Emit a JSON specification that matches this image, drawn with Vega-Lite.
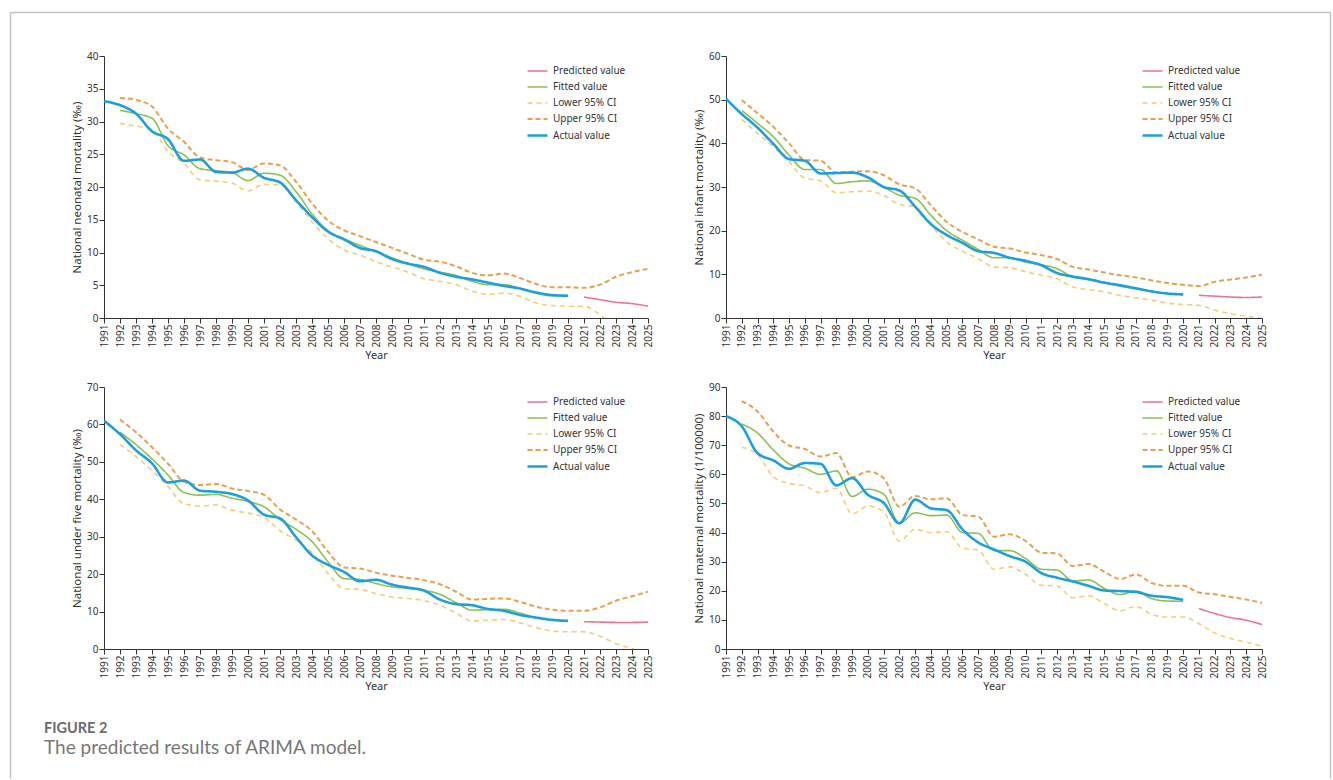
{
"$schema": "https://vega.github.io/schema/vega-lite/v6.json",
"background": "white",
"padding": {"left": 10, "top": 12, "right": 0, "bottom": 0},
"config": {
 "font": "Noto Sans",
 "view": {"stroke": null},
 "axis": {"labelFontSize": 10, "labelColor": "#333", "titleFontSize": 11.5, "titleFontWeight": "normal", "titleColor": "#333", "domainColor": "#333", "tickColor": "#333", "grid": false, "tickSize": 5, "labelFont": "Noto Sans", "titleFont": "Noto Sans", "labelPadding": 1},
 "axisX": {"labelAngle": 270, "titlePadding": 3, "labelAlign": "right", "labelBaseline": "middle", "titleFontSize": 11},
 "axisY": {"titlePadding": 4},
 "legend": {"symbolType": "stroke", "symbolSize": 400, "labelFontSize": 10, "labelColor": "#333", "labelFont": "Noto Sans", "rowPadding": -1, "labelOffset": 4, "symbolStrokeWidth": 2}
},
"title": {"text": "FIGURE 2", "subtitle": "The predicted results of ARIMA model.", "orient": "top", "frame": "group", "anchor": "start", "offset": 0, "dx": -60, "dy": 747, "font": "Lato", "fontSize": 14.5, "fontWeight": "bold", "color": "#6b6b6b", "subtitleFont": "Lato", "subtitleFontSize": 19, "subtitleFontWeight": "normal", "subtitleColor": "#777777", "subtitlePadding": 3},
"datasets": {
"nn": [
{"year":2021,"series":"Predicted value","value":3.2},{"year":2022,"series":"Predicted value","value":2.8},{"year":2023,"series":"Predicted value","value":2.4},{"year":2024,"series":"Predicted value","value":2.2},{"year":2025,"series":"Predicted value","value":1.8},
{"year":1992,"series":"Fitted value","value":31.7},{"year":1993,"series":"Fitted value","value":31.2},{"year":1994,"series":"Fitted value","value":30.5},{"year":1995,"series":"Fitted value","value":26.3},{"year":1996,"series":"Fitted value","value":24.9},{"year":1997,"series":"Fitted value","value":22.8},{"year":1998,"series":"Fitted value","value":22.5},{"year":1999,"series":"Fitted value","value":22.2},{"year":2000,"series":"Fitted value","value":21.0},{"year":2001,"series":"Fitted value","value":22.1},{"year":2002,"series":"Fitted value","value":21.8},{"year":2003,"series":"Fitted value","value":19.3},{"year":2004,"series":"Fitted value","value":15.9},{"year":2005,"series":"Fitted value","value":13.3},{"year":2006,"series":"Fitted value","value":12.1},{"year":2007,"series":"Fitted value","value":11.1},{"year":2008,"series":"Fitted value","value":10.1},{"year":2009,"series":"Fitted value","value":9.2},{"year":2010,"series":"Fitted value","value":8.3},{"year":2011,"series":"Fitted value","value":7.5},{"year":2012,"series":"Fitted value","value":7.0},{"year":2013,"series":"Fitted value","value":6.5},{"year":2014,"series":"Fitted value","value":5.6},{"year":2015,"series":"Fitted value","value":5.1},{"year":2016,"series":"Fitted value","value":5.1},{"year":2017,"series":"Fitted value","value":4.5},{"year":2018,"series":"Fitted value","value":3.8},{"year":2019,"series":"Fitted value","value":3.4},{"year":2020,"series":"Fitted value","value":3.4},
{"year":1992,"series":"Lower 95% CI","value":29.7},{"year":1993,"series":"Lower 95% CI","value":29.3},{"year":1994,"series":"Lower 95% CI","value":28.8},{"year":1995,"series":"Lower 95% CI","value":25.4},{"year":1996,"series":"Lower 95% CI","value":23.6},{"year":1997,"series":"Lower 95% CI","value":21.1},{"year":1998,"series":"Lower 95% CI","value":20.9},{"year":1999,"series":"Lower 95% CI","value":20.6},{"year":2000,"series":"Lower 95% CI","value":19.4},{"year":2001,"series":"Lower 95% CI","value":20.4},{"year":2002,"series":"Lower 95% CI","value":20.3},{"year":2003,"series":"Lower 95% CI","value":17.7},{"year":2004,"series":"Lower 95% CI","value":14.7},{"year":2005,"series":"Lower 95% CI","value":12.1},{"year":2006,"series":"Lower 95% CI","value":10.4},{"year":2007,"series":"Lower 95% CI","value":9.6},{"year":2008,"series":"Lower 95% CI","value":8.6},{"year":2009,"series":"Lower 95% CI","value":7.8},{"year":2010,"series":"Lower 95% CI","value":7.0},{"year":2011,"series":"Lower 95% CI","value":6.0},{"year":2012,"series":"Lower 95% CI","value":5.6},{"year":2013,"series":"Lower 95% CI","value":5.1},{"year":2014,"series":"Lower 95% CI","value":4.1},{"year":2015,"series":"Lower 95% CI","value":3.6},{"year":2016,"series":"Lower 95% CI","value":3.8},{"year":2017,"series":"Lower 95% CI","value":3.3},{"year":2018,"series":"Lower 95% CI","value":2.3},{"year":2019,"series":"Lower 95% CI","value":1.9},{"year":2020,"series":"Lower 95% CI","value":1.8},{"year":2021,"series":"Lower 95% CI","value":1.8},{"year":2022,"series":"Lower 95% CI","value":0.5},{"year":2023,"series":"Lower 95% CI","value":-1.3},{"year":2024,"series":"Lower 95% CI","value":-2.2},{"year":2025,"series":"Lower 95% CI","value":-3.0},
{"year":1992,"series":"Upper 95% CI","value":33.6},{"year":1993,"series":"Upper 95% CI","value":33.3},{"year":1994,"series":"Upper 95% CI","value":32.3},{"year":1995,"series":"Upper 95% CI","value":28.9},{"year":1996,"series":"Upper 95% CI","value":26.9},{"year":1997,"series":"Upper 95% CI","value":24.5},{"year":1998,"series":"Upper 95% CI","value":24.1},{"year":1999,"series":"Upper 95% CI","value":23.8},{"year":2000,"series":"Upper 95% CI","value":22.6},{"year":2001,"series":"Upper 95% CI","value":23.6},{"year":2002,"series":"Upper 95% CI","value":23.3},{"year":2003,"series":"Upper 95% CI","value":20.8},{"year":2004,"series":"Upper 95% CI","value":17.5},{"year":2005,"series":"Upper 95% CI","value":14.9},{"year":2006,"series":"Upper 95% CI","value":13.4},{"year":2007,"series":"Upper 95% CI","value":12.5},{"year":2008,"series":"Upper 95% CI","value":11.6},{"year":2009,"series":"Upper 95% CI","value":10.7},{"year":2010,"series":"Upper 95% CI","value":9.8},{"year":2011,"series":"Upper 95% CI","value":8.9},{"year":2012,"series":"Upper 95% CI","value":8.6},{"year":2013,"series":"Upper 95% CI","value":7.9},{"year":2014,"series":"Upper 95% CI","value":6.9},{"year":2015,"series":"Upper 95% CI","value":6.5},{"year":2016,"series":"Upper 95% CI","value":6.8},{"year":2017,"series":"Upper 95% CI","value":6.1},{"year":2018,"series":"Upper 95% CI","value":5.2},{"year":2019,"series":"Upper 95% CI","value":4.7},{"year":2020,"series":"Upper 95% CI","value":4.7},{"year":2021,"series":"Upper 95% CI","value":4.6},{"year":2022,"series":"Upper 95% CI","value":5.1},{"year":2023,"series":"Upper 95% CI","value":6.3},{"year":2024,"series":"Upper 95% CI","value":7.0},{"year":2025,"series":"Upper 95% CI","value":7.5},
{"year":1991,"series":"Actual value","value":33.1},{"year":1992,"series":"Actual value","value":32.5},{"year":1993,"series":"Actual value","value":31.2},{"year":1994,"series":"Actual value","value":28.5},{"year":1995,"series":"Actual value","value":27.3},{"year":1996,"series":"Actual value","value":24.0},{"year":1997,"series":"Actual value","value":24.2},{"year":1998,"series":"Actual value","value":22.3},{"year":1999,"series":"Actual value","value":22.2},{"year":2000,"series":"Actual value","value":22.8},{"year":2001,"series":"Actual value","value":21.4},{"year":2002,"series":"Actual value","value":20.7},{"year":2003,"series":"Actual value","value":18.0},{"year":2004,"series":"Actual value","value":15.4},{"year":2005,"series":"Actual value","value":13.2},{"year":2006,"series":"Actual value","value":12.0},{"year":2007,"series":"Actual value","value":10.7},{"year":2008,"series":"Actual value","value":10.2},{"year":2009,"series":"Actual value","value":9.0},{"year":2010,"series":"Actual value","value":8.3},{"year":2011,"series":"Actual value","value":7.8},{"year":2012,"series":"Actual value","value":6.9},{"year":2013,"series":"Actual value","value":6.3},{"year":2014,"series":"Actual value","value":5.9},{"year":2015,"series":"Actual value","value":5.4},{"year":2016,"series":"Actual value","value":4.9},{"year":2017,"series":"Actual value","value":4.5},{"year":2018,"series":"Actual value","value":3.9},{"year":2019,"series":"Actual value","value":3.5},{"year":2020,"series":"Actual value","value":3.4}
],
"inf": [
{"year":2021,"series":"Predicted value","value":5.2},{"year":2022,"series":"Predicted value","value":5.0},{"year":2023,"series":"Predicted value","value":4.8},{"year":2024,"series":"Predicted value","value":4.7},{"year":2025,"series":"Predicted value","value":4.8},
{"year":1992,"series":"Fitted value","value":47.5},{"year":1993,"series":"Fitted value","value":44.6},{"year":1994,"series":"Fitted value","value":41.5},{"year":1995,"series":"Fitted value","value":37.3},{"year":1996,"series":"Fitted value","value":34.0},{"year":1997,"series":"Fitted value","value":34.0},{"year":1998,"series":"Fitted value","value":30.8},{"year":1999,"series":"Fitted value","value":31.2},{"year":2000,"series":"Fitted value","value":31.4},{"year":2001,"series":"Fitted value","value":30.0},{"year":2002,"series":"Fitted value","value":28.1},{"year":2003,"series":"Fitted value","value":27.4},{"year":2004,"series":"Fitted value","value":23.5},{"year":2005,"series":"Fitted value","value":20.0},{"year":2006,"series":"Fitted value","value":17.8},{"year":2007,"series":"Fitted value","value":15.7},{"year":2008,"series":"Fitted value","value":13.8},{"year":2009,"series":"Fitted value","value":13.8},{"year":2010,"series":"Fitted value","value":12.8},{"year":2011,"series":"Fitted value","value":12.2},{"year":2012,"series":"Fitted value","value":11.3},{"year":2013,"series":"Fitted value","value":9.4},{"year":2014,"series":"Fitted value","value":8.8},{"year":2015,"series":"Fitted value","value":8.1},{"year":2016,"series":"Fitted value","value":7.3},{"year":2017,"series":"Fitted value","value":6.7},{"year":2018,"series":"Fitted value","value":6.1},{"year":2019,"series":"Fitted value","value":5.6},{"year":2020,"series":"Fitted value","value":5.4},
{"year":1992,"series":"Lower 95% CI","value":45.5},{"year":1993,"series":"Lower 95% CI","value":42.3},{"year":1994,"series":"Lower 95% CI","value":39.2},{"year":1995,"series":"Lower 95% CI","value":35.8},{"year":1996,"series":"Lower 95% CI","value":32.0},{"year":1997,"series":"Lower 95% CI","value":31.4},{"year":1998,"series":"Lower 95% CI","value":28.7},{"year":1999,"series":"Lower 95% CI","value":28.9},{"year":2000,"series":"Lower 95% CI","value":29.1},{"year":2001,"series":"Lower 95% CI","value":28.1},{"year":2002,"series":"Lower 95% CI","value":26.0},{"year":2003,"series":"Lower 95% CI","value":25.5},{"year":2004,"series":"Lower 95% CI","value":21.3},{"year":2005,"series":"Lower 95% CI","value":17.4},{"year":2006,"series":"Lower 95% CI","value":15.3},{"year":2007,"series":"Lower 95% CI","value":13.6},{"year":2008,"series":"Lower 95% CI","value":11.7},{"year":2009,"series":"Lower 95% CI","value":11.5},{"year":2010,"series":"Lower 95% CI","value":10.6},{"year":2011,"series":"Lower 95% CI","value":9.8},{"year":2012,"series":"Lower 95% CI","value":9.0},{"year":2013,"series":"Lower 95% CI","value":7.1},{"year":2014,"series":"Lower 95% CI","value":6.5},{"year":2015,"series":"Lower 95% CI","value":6.0},{"year":2016,"series":"Lower 95% CI","value":5.2},{"year":2017,"series":"Lower 95% CI","value":4.6},{"year":2018,"series":"Lower 95% CI","value":4.1},{"year":2019,"series":"Lower 95% CI","value":3.4},{"year":2020,"series":"Lower 95% CI","value":3.1},{"year":2021,"series":"Lower 95% CI","value":2.9},{"year":2022,"series":"Lower 95% CI","value":1.8},{"year":2023,"series":"Lower 95% CI","value":1.0},{"year":2024,"series":"Lower 95% CI","value":0.4},{"year":2025,"series":"Lower 95% CI","value":-0.1},
{"year":1992,"series":"Upper 95% CI","value":49.9},{"year":1993,"series":"Upper 95% CI","value":46.9},{"year":1994,"series":"Upper 95% CI","value":43.8},{"year":1995,"series":"Upper 95% CI","value":40.0},{"year":1996,"series":"Upper 95% CI","value":36.2},{"year":1997,"series":"Upper 95% CI","value":36.0},{"year":1998,"series":"Upper 95% CI","value":33.3},{"year":1999,"series":"Upper 95% CI","value":33.5},{"year":2000,"series":"Upper 95% CI","value":33.6},{"year":2001,"series":"Upper 95% CI","value":32.7},{"year":2002,"series":"Upper 95% CI","value":30.6},{"year":2003,"series":"Upper 95% CI","value":29.7},{"year":2004,"series":"Upper 95% CI","value":25.8},{"year":2005,"series":"Upper 95% CI","value":22.0},{"year":2006,"series":"Upper 95% CI","value":19.7},{"year":2007,"series":"Upper 95% CI","value":18.0},{"year":2008,"series":"Upper 95% CI","value":16.3},{"year":2009,"series":"Upper 95% CI","value":15.9},{"year":2010,"series":"Upper 95% CI","value":15.0},{"year":2011,"series":"Upper 95% CI","value":14.4},{"year":2012,"series":"Upper 95% CI","value":13.5},{"year":2013,"series":"Upper 95% CI","value":11.7},{"year":2014,"series":"Upper 95% CI","value":11.1},{"year":2015,"series":"Upper 95% CI","value":10.4},{"year":2016,"series":"Upper 95% CI","value":9.8},{"year":2017,"series":"Upper 95% CI","value":9.3},{"year":2018,"series":"Upper 95% CI","value":8.6},{"year":2019,"series":"Upper 95% CI","value":8.0},{"year":2020,"series":"Upper 95% CI","value":7.6},{"year":2021,"series":"Upper 95% CI","value":7.3},{"year":2022,"series":"Upper 95% CI","value":8.3},{"year":2023,"series":"Upper 95% CI","value":8.8},{"year":2024,"series":"Upper 95% CI","value":9.3},{"year":2025,"series":"Upper 95% CI","value":9.9},
{"year":1991,"series":"Actual value","value":50.2},{"year":1992,"series":"Actual value","value":46.7},{"year":1993,"series":"Actual value","value":43.6},{"year":1994,"series":"Actual value","value":39.9},{"year":1995,"series":"Actual value","value":36.4},{"year":1996,"series":"Actual value","value":36.0},{"year":1997,"series":"Actual value","value":33.1},{"year":1998,"series":"Actual value","value":33.2},{"year":1999,"series":"Actual value","value":33.3},{"year":2000,"series":"Actual value","value":32.2},{"year":2001,"series":"Actual value","value":30.0},{"year":2002,"series":"Actual value","value":29.2},{"year":2003,"series":"Actual value","value":25.5},{"year":2004,"series":"Actual value","value":21.5},{"year":2005,"series":"Actual value","value":19.0},{"year":2006,"series":"Actual value","value":17.2},{"year":2007,"series":"Actual value","value":15.3},{"year":2008,"series":"Actual value","value":14.9},{"year":2009,"series":"Actual value","value":13.8},{"year":2010,"series":"Actual value","value":13.1},{"year":2011,"series":"Actual value","value":12.1},{"year":2012,"series":"Actual value","value":10.3},{"year":2013,"series":"Actual value","value":9.5},{"year":2014,"series":"Actual value","value":8.9},{"year":2015,"series":"Actual value","value":8.1},{"year":2016,"series":"Actual value","value":7.5},{"year":2017,"series":"Actual value","value":6.8},{"year":2018,"series":"Actual value","value":6.1},{"year":2019,"series":"Actual value","value":5.6},{"year":2020,"series":"Actual value","value":5.4}
],
"u5": [
{"year":2021,"series":"Predicted value","value":7.3},{"year":2022,"series":"Predicted value","value":7.2},{"year":2023,"series":"Predicted value","value":7.1},{"year":2024,"series":"Predicted value","value":7.1},{"year":2025,"series":"Predicted value","value":7.2},
{"year":1992,"series":"Fitted value","value":57.9},{"year":1993,"series":"Fitted value","value":54.6},{"year":1994,"series":"Fitted value","value":50.8},{"year":1995,"series":"Fitted value","value":46.5},{"year":1996,"series":"Fitted value","value":41.8},{"year":1997,"series":"Fitted value","value":41.1},{"year":1998,"series":"Fitted value","value":41.3},{"year":1999,"series":"Fitted value","value":40.3},{"year":2000,"series":"Fitted value","value":39.4},{"year":2001,"series":"Fitted value","value":38.0},{"year":2002,"series":"Fitted value","value":34.6},{"year":2003,"series":"Fitted value","value":32.0},{"year":2004,"series":"Fitted value","value":28.7},{"year":2005,"series":"Fitted value","value":23.3},{"year":2006,"series":"Fitted value","value":18.8},{"year":2007,"series":"Fitted value","value":18.6},{"year":2008,"series":"Fitted value","value":17.5},{"year":2009,"series":"Fitted value","value":16.6},{"year":2010,"series":"Fitted value","value":16.2},{"year":2011,"series":"Fitted value","value":15.7},{"year":2012,"series":"Fitted value","value":14.6},{"year":2013,"series":"Fitted value","value":12.4},{"year":2014,"series":"Fitted value","value":10.4},{"year":2015,"series":"Fitted value","value":10.5},{"year":2016,"series":"Fitted value","value":10.6},{"year":2017,"series":"Fitted value","value":9.6},{"year":2018,"series":"Fitted value","value":8.4},{"year":2019,"series":"Fitted value","value":7.7},{"year":2020,"series":"Fitted value","value":7.5},
{"year":1992,"series":"Lower 95% CI","value":54.7},{"year":1993,"series":"Lower 95% CI","value":51.4},{"year":1994,"series":"Lower 95% CI","value":47.7},{"year":1995,"series":"Lower 95% CI","value":43.4},{"year":1996,"series":"Lower 95% CI","value":38.8},{"year":1997,"series":"Lower 95% CI","value":38.2},{"year":1998,"series":"Lower 95% CI","value":38.5},{"year":1999,"series":"Lower 95% CI","value":37.1},{"year":2000,"series":"Lower 95% CI","value":36.3},{"year":2001,"series":"Lower 95% CI","value":35.2},{"year":2002,"series":"Lower 95% CI","value":31.6},{"year":2003,"series":"Lower 95% CI","value":29.1},{"year":2004,"series":"Lower 95% CI","value":25.7},{"year":2005,"series":"Lower 95% CI","value":20.2},{"year":2006,"series":"Lower 95% CI","value":16.1},{"year":2007,"series":"Lower 95% CI","value":15.9},{"year":2008,"series":"Lower 95% CI","value":14.8},{"year":2009,"series":"Lower 95% CI","value":13.9},{"year":2010,"series":"Lower 95% CI","value":13.5},{"year":2011,"series":"Lower 95% CI","value":12.9},{"year":2012,"series":"Lower 95% CI","value":11.7},{"year":2013,"series":"Lower 95% CI","value":9.6},{"year":2014,"series":"Lower 95% CI","value":7.5},{"year":2015,"series":"Lower 95% CI","value":7.7},{"year":2016,"series":"Lower 95% CI","value":7.9},{"year":2017,"series":"Lower 95% CI","value":7.0},{"year":2018,"series":"Lower 95% CI","value":5.7},{"year":2019,"series":"Lower 95% CI","value":4.8},{"year":2020,"series":"Lower 95% CI","value":4.6},{"year":2021,"series":"Lower 95% CI","value":4.6},{"year":2022,"series":"Lower 95% CI","value":3.4},{"year":2023,"series":"Lower 95% CI","value":1.4},{"year":2024,"series":"Lower 95% CI","value":0.1},{"year":2025,"series":"Lower 95% CI","value":-1.6},
{"year":1992,"series":"Upper 95% CI","value":61.3},{"year":1993,"series":"Upper 95% CI","value":57.9},{"year":1994,"series":"Upper 95% CI","value":53.9},{"year":1995,"series":"Upper 95% CI","value":49.5},{"year":1996,"series":"Upper 95% CI","value":44.7},{"year":1997,"series":"Upper 95% CI","value":43.8},{"year":1998,"series":"Upper 95% CI","value":44.1},{"year":1999,"series":"Upper 95% CI","value":42.9},{"year":2000,"series":"Upper 95% CI","value":42.2},{"year":2001,"series":"Upper 95% CI","value":41.2},{"year":2002,"series":"Upper 95% CI","value":37.3},{"year":2003,"series":"Upper 95% CI","value":34.6},{"year":2004,"series":"Upper 95% CI","value":31.5},{"year":2005,"series":"Upper 95% CI","value":26.0},{"year":2006,"series":"Upper 95% CI","value":21.8},{"year":2007,"series":"Upper 95% CI","value":21.5},{"year":2008,"series":"Upper 95% CI","value":20.4},{"year":2009,"series":"Upper 95% CI","value":19.6},{"year":2010,"series":"Upper 95% CI","value":19.0},{"year":2011,"series":"Upper 95% CI","value":18.4},{"year":2012,"series":"Upper 95% CI","value":17.3},{"year":2013,"series":"Upper 95% CI","value":15.3},{"year":2014,"series":"Upper 95% CI","value":13.2},{"year":2015,"series":"Upper 95% CI","value":13.4},{"year":2016,"series":"Upper 95% CI","value":13.5},{"year":2017,"series":"Upper 95% CI","value":12.6},{"year":2018,"series":"Upper 95% CI","value":11.3},{"year":2019,"series":"Upper 95% CI","value":10.5},{"year":2020,"series":"Upper 95% CI","value":10.2},{"year":2021,"series":"Upper 95% CI","value":10.2},{"year":2022,"series":"Upper 95% CI","value":11.1},{"year":2023,"series":"Upper 95% CI","value":12.9},{"year":2024,"series":"Upper 95% CI","value":14.1},{"year":2025,"series":"Upper 95% CI","value":15.3},
{"year":1991,"series":"Actual value","value":61.0},{"year":1992,"series":"Actual value","value":57.4},{"year":1993,"series":"Actual value","value":53.1},{"year":1994,"series":"Actual value","value":49.6},{"year":1995,"series":"Actual value","value":44.5},{"year":1996,"series":"Actual value","value":45.0},{"year":1997,"series":"Actual value","value":42.3},{"year":1998,"series":"Actual value","value":42.0},{"year":1999,"series":"Actual value","value":41.4},{"year":2000,"series":"Actual value","value":39.7},{"year":2001,"series":"Actual value","value":35.9},{"year":2002,"series":"Actual value","value":34.9},{"year":2003,"series":"Actual value","value":29.9},{"year":2004,"series":"Actual value","value":25.0},{"year":2005,"series":"Actual value","value":22.5},{"year":2006,"series":"Actual value","value":20.6},{"year":2007,"series":"Actual value","value":18.1},{"year":2008,"series":"Actual value","value":18.5},{"year":2009,"series":"Actual value","value":17.2},{"year":2010,"series":"Actual value","value":16.4},{"year":2011,"series":"Actual value","value":15.6},{"year":2012,"series":"Actual value","value":13.2},{"year":2013,"series":"Actual value","value":12.0},{"year":2014,"series":"Actual value","value":11.7},{"year":2015,"series":"Actual value","value":10.7},{"year":2016,"series":"Actual value","value":10.2},{"year":2017,"series":"Actual value","value":9.1},{"year":2018,"series":"Actual value","value":8.4},{"year":2019,"series":"Actual value","value":7.8},{"year":2020,"series":"Actual value","value":7.5}
],
"mm": [
{"year":2021,"series":"Predicted value","value":13.9},{"year":2022,"series":"Predicted value","value":12.2},{"year":2023,"series":"Predicted value","value":10.8},{"year":2024,"series":"Predicted value","value":9.9},{"year":2025,"series":"Predicted value","value":8.4},
{"year":1992,"series":"Fitted value","value":77.3},{"year":1993,"series":"Fitted value","value":74.2},{"year":1994,"series":"Fitted value","value":68.4},{"year":1995,"series":"Fitted value","value":63.6},{"year":1996,"series":"Fitted value","value":62.1},{"year":1997,"series":"Fitted value","value":60.0},{"year":1998,"series":"Fitted value","value":61.2},{"year":1999,"series":"Fitted value","value":52.4},{"year":2000,"series":"Fitted value","value":54.9},{"year":2001,"series":"Fitted value","value":53.2},{"year":2002,"series":"Fitted value","value":43.2},{"year":2003,"series":"Fitted value","value":46.8},{"year":2004,"series":"Fitted value","value":45.8},{"year":2005,"series":"Fitted value","value":46.0},{"year":2006,"series":"Fitted value","value":40.0},{"year":2007,"series":"Fitted value","value":39.7},{"year":2008,"series":"Fitted value","value":33.8},{"year":2009,"series":"Fitted value","value":33.8},{"year":2010,"series":"Fitted value","value":31.1},{"year":2011,"series":"Fitted value","value":27.4},{"year":2012,"series":"Fitted value","value":27.1},{"year":2013,"series":"Fitted value","value":23.4},{"year":2014,"series":"Fitted value","value":23.7},{"year":2015,"series":"Fitted value","value":20.8},{"year":2016,"series":"Fitted value","value":18.7},{"year":2017,"series":"Fitted value","value":19.9},{"year":2018,"series":"Fitted value","value":17.3},{"year":2019,"series":"Fitted value","value":16.5},{"year":2020,"series":"Fitted value","value":16.4},
{"year":1992,"series":"Lower 95% CI","value":69.3},{"year":1993,"series":"Lower 95% CI","value":66.7},{"year":1994,"series":"Lower 95% CI","value":59.2},{"year":1995,"series":"Lower 95% CI","value":56.9},{"year":1996,"series":"Lower 95% CI","value":56.0},{"year":1997,"series":"Lower 95% CI","value":53.7},{"year":1998,"series":"Lower 95% CI","value":55.2},{"year":1999,"series":"Lower 95% CI","value":46.4},{"year":2000,"series":"Lower 95% CI","value":49.1},{"year":2001,"series":"Lower 95% CI","value":47.2},{"year":2002,"series":"Lower 95% CI","value":37.1},{"year":2003,"series":"Lower 95% CI","value":41.1},{"year":2004,"series":"Lower 95% CI","value":40.0},{"year":2005,"series":"Lower 95% CI","value":40.3},{"year":2006,"series":"Lower 95% CI","value":34.6},{"year":2007,"series":"Lower 95% CI","value":34.0},{"year":2008,"series":"Lower 95% CI","value":27.4},{"year":2009,"series":"Lower 95% CI","value":28.2},{"year":2010,"series":"Lower 95% CI","value":25.6},{"year":2011,"series":"Lower 95% CI","value":21.9},{"year":2012,"series":"Lower 95% CI","value":21.7},{"year":2013,"series":"Lower 95% CI","value":17.6},{"year":2014,"series":"Lower 95% CI","value":18.3},{"year":2015,"series":"Lower 95% CI","value":15.6},{"year":2016,"series":"Lower 95% CI","value":13.1},{"year":2017,"series":"Lower 95% CI","value":14.7},{"year":2018,"series":"Lower 95% CI","value":11.9},{"year":2019,"series":"Lower 95% CI","value":11.0},{"year":2020,"series":"Lower 95% CI","value":11.0},{"year":2021,"series":"Lower 95% CI","value":8.7},{"year":2022,"series":"Lower 95% CI","value":5.5},{"year":2023,"series":"Lower 95% CI","value":3.6},{"year":2024,"series":"Lower 95% CI","value":2.4},{"year":2025,"series":"Lower 95% CI","value":0.9},
{"year":1992,"series":"Upper 95% CI","value":85.1},{"year":1993,"series":"Upper 95% CI","value":81.6},{"year":1994,"series":"Upper 95% CI","value":74.7},{"year":1995,"series":"Upper 95% CI","value":69.9},{"year":1996,"series":"Upper 95% CI","value":68.7},{"year":1997,"series":"Upper 95% CI","value":66.1},{"year":1998,"series":"Upper 95% CI","value":67.3},{"year":1999,"series":"Upper 95% CI","value":59.0},{"year":2000,"series":"Upper 95% CI","value":61.0},{"year":2001,"series":"Upper 95% CI","value":58.7},{"year":2002,"series":"Upper 95% CI","value":48.9},{"year":2003,"series":"Upper 95% CI","value":52.6},{"year":2004,"series":"Upper 95% CI","value":51.4},{"year":2005,"series":"Upper 95% CI","value":51.8},{"year":2006,"series":"Upper 95% CI","value":46.0},{"year":2007,"series":"Upper 95% CI","value":45.5},{"year":2008,"series":"Upper 95% CI","value":38.6},{"year":2009,"series":"Upper 95% CI","value":39.4},{"year":2010,"series":"Upper 95% CI","value":37.1},{"year":2011,"series":"Upper 95% CI","value":33.1},{"year":2012,"series":"Upper 95% CI","value":32.8},{"year":2013,"series":"Upper 95% CI","value":28.5},{"year":2014,"series":"Upper 95% CI","value":29.2},{"year":2015,"series":"Upper 95% CI","value":26.5},{"year":2016,"series":"Upper 95% CI","value":24.0},{"year":2017,"series":"Upper 95% CI","value":25.6},{"year":2018,"series":"Upper 95% CI","value":22.7},{"year":2019,"series":"Upper 95% CI","value":21.7},{"year":2020,"series":"Upper 95% CI","value":21.7},{"year":2021,"series":"Upper 95% CI","value":19.4},{"year":2022,"series":"Upper 95% CI","value":18.8},{"year":2023,"series":"Upper 95% CI","value":17.9},{"year":2024,"series":"Upper 95% CI","value":17.0},{"year":2025,"series":"Upper 95% CI","value":15.8},
{"year":1991,"series":"Actual value","value":80.0},{"year":1992,"series":"Actual value","value":76.5},{"year":1993,"series":"Actual value","value":67.3},{"year":1994,"series":"Actual value","value":64.8},{"year":1995,"series":"Actual value","value":61.9},{"year":1996,"series":"Actual value","value":63.9},{"year":1997,"series":"Actual value","value":63.6},{"year":1998,"series":"Actual value","value":56.2},{"year":1999,"series":"Actual value","value":58.7},{"year":2000,"series":"Actual value","value":53.0},{"year":2001,"series":"Actual value","value":50.2},{"year":2002,"series":"Actual value","value":43.2},{"year":2003,"series":"Actual value","value":51.3},{"year":2004,"series":"Actual value","value":48.3},{"year":2005,"series":"Actual value","value":47.7},{"year":2006,"series":"Actual value","value":41.1},{"year":2007,"series":"Actual value","value":36.6},{"year":2008,"series":"Actual value","value":34.2},{"year":2009,"series":"Actual value","value":31.9},{"year":2010,"series":"Actual value","value":30.0},{"year":2011,"series":"Actual value","value":26.1},{"year":2012,"series":"Actual value","value":24.5},{"year":2013,"series":"Actual value","value":23.2},{"year":2014,"series":"Actual value","value":21.7},{"year":2015,"series":"Actual value","value":20.1},{"year":2016,"series":"Actual value","value":19.9},{"year":2017,"series":"Actual value","value":19.6},{"year":2018,"series":"Actual value","value":18.3},{"year":2019,"series":"Actual value","value":17.8},{"year":2020,"series":"Actual value","value":16.9}
]
},
"columns": 2,
"spacing": {"row": 69, "column": 78},
"bounds": "flush",
"resolve": {"scale": {"color": "independent", "strokeDash": "independent", "strokeWidth": "independent"}},
"concat": [
 {"width": 544, "height": 262,
  "resolve": {"scale": {"x": "independent", "y": "independent"}, "axis": {"x": "independent", "y": "independent"}},
  "layer": [
  {"data": {"name": "nn"},
   "mark": {"type": "line", "interpolate": "monotone", "clip": true},
   "encoding": {
    "x": {"field": "year", "type": "ordinal", "scale": {"type": "point", "padding": 0}, "axis": {"title": "Year"}},
    "y": {"field": "value", "type": "quantitative", "scale": {"domain": [0, 40]}, "axis": {"title": "National neonatal mortality (‰)", "values": [0,5,10,15,20,25,30,35,40]}},
    "color": {"field": "series", "type": "nominal", "scale": {"domain": ["Predicted value","Fitted value","Lower 95% CI","Upper 95% CI","Actual value"], "range": ["#ea7494","#8cc152","#f7cc74","#e9a04e","#1b9fdd"]}, "legend": {"title": null, "orient": "none", "legendX": 422, "legendY": 4}},
    "strokeDash": {"field": "series", "type": "nominal", "scale": {"domain": ["Predicted value","Fitted value","Lower 95% CI","Upper 95% CI","Actual value"], "range": [[1,0],[1,0],[5,4],[5,3],[1,0]]}, "legend": {"title": null, "orient": "none", "legendX": 422, "legendY": 4}},
    "strokeWidth": {"field": "series", "type": "nominal", "scale": {"type": "ordinal", "domain": ["Predicted value","Fitted value","Lower 95% CI","Upper 95% CI","Actual value"], "range": [1.6,1.6,1.6,2,2.6]}, "legend": {"title": null, "orient": "none", "legendX": 422, "legendY": 4}}
   }},
  {"data": {"values": []},
   "mark": {"type": "point", "opacity": 0},
   "encoding": {
    "x": {"field": "f", "type": "quantitative", "scale": {"domain": [0, 1], "range": [-94, 1226]}, "axis": {"orient": "top", "offset": 44, "title": null, "labels": false, "ticks": false, "grid": false, "domainColor": "#c2c2c2", "domainWidth": 1.5}},
    "y": {"field": "f", "type": "quantitative", "scale": {"domain": [0, 1], "range": [722, -44]}, "axis": {"orient": "left", "offset": 94, "title": null, "labels": false, "ticks": false, "grid": false, "domainColor": "#c2c2c2", "domainWidth": 1.5}}
   }}
  ]},
 {"width": 536, "height": 262,
  "resolve": {"scale": {"y": "independent"}, "axis": {"y": "independent"}},
  "layer": [
  {"data": {"name": "inf"},
   "mark": {"type": "line", "interpolate": "monotone", "clip": true},
   "encoding": {
    "x": {"field": "year", "type": "ordinal", "scale": {"type": "point", "padding": 0}, "axis": {"title": "Year"}},
    "y": {"field": "value", "type": "quantitative", "scale": {"domain": [0, 60]}, "axis": {"title": "National infant mortality (‰)", "values": [0,10,20,30,40,50,60]}},
    "color": {"field": "series", "type": "nominal", "scale": {"domain": ["Predicted value","Fitted value","Lower 95% CI","Upper 95% CI","Actual value"], "range": ["#ea7494","#8cc152","#f7cc74","#e9a04e","#1b9fdd"]}, "legend": {"title": null, "orient": "none", "legendX": 415, "legendY": 4}},
    "strokeDash": {"field": "series", "type": "nominal", "scale": {"domain": ["Predicted value","Fitted value","Lower 95% CI","Upper 95% CI","Actual value"], "range": [[1,0],[1,0],[5,4],[5,3],[1,0]]}, "legend": {"title": null, "orient": "none", "legendX": 415, "legendY": 4}},
    "strokeWidth": {"field": "series", "type": "nominal", "scale": {"type": "ordinal", "domain": ["Predicted value","Fitted value","Lower 95% CI","Upper 95% CI","Actual value"], "range": [1.6,1.6,1.6,2,2.6]}, "legend": {"title": null, "orient": "none", "legendX": 415, "legendY": 4}}
   }},
  {"data": {"values": []},
   "mark": {"type": "point", "opacity": 0},
   "encoding": {
    "y": {"field": "f", "type": "quantitative", "scale": {"domain": [0, 1], "range": [722, -44]}, "axis": {"orient": "right", "offset": 68, "title": null, "labels": false, "ticks": false, "grid": false, "domainColor": "#c2c2c2", "domainWidth": 1.5}}
   }}
  ]},
 {"width": 544, "height": 262, "data": {"name": "u5"},
  "mark": {"type": "line", "interpolate": "monotone", "clip": true},
  "encoding": {
   "x": {"field": "year", "type": "ordinal", "scale": {"type": "point", "padding": 0}, "axis": {"title": "Year"}},
   "y": {"field": "value", "type": "quantitative", "scale": {"domain": [0, 70]}, "axis": {"title": "National under five mortality (‰)", "values": [0,10,20,30,40,50,60,70]}},
   "color": {"field": "series", "type": "nominal", "scale": {"domain": ["Predicted value","Fitted value","Lower 95% CI","Upper 95% CI","Actual value"], "range": ["#ea7494","#8cc152","#f7cc74","#e9a04e","#1b9fdd"]}, "legend": {"title": null, "orient": "none", "legendX": 422, "legendY": 4}},
   "strokeDash": {"field": "series", "type": "nominal", "scale": {"domain": ["Predicted value","Fitted value","Lower 95% CI","Upper 95% CI","Actual value"], "range": [[1,0],[1,0],[5,4],[5,3],[1,0]]}, "legend": {"title": null, "orient": "none", "legendX": 422, "legendY": 4}},
   "strokeWidth": {"field": "series", "type": "nominal", "scale": {"type": "ordinal", "domain": ["Predicted value","Fitted value","Lower 95% CI","Upper 95% CI","Actual value"], "range": [1.6,1.6,1.6,2,2.6]}, "legend": {"title": null, "orient": "none", "legendX": 422, "legendY": 4}}
  }},
 {"width": 536, "height": 262, "data": {"name": "mm"},
  "mark": {"type": "line", "interpolate": "monotone", "clip": true},
  "encoding": {
   "x": {"field": "year", "type": "ordinal", "scale": {"type": "point", "padding": 0}, "axis": {"title": "Year"}},
   "y": {"field": "value", "type": "quantitative", "scale": {"domain": [0, 90]}, "axis": {"title": "National maternal mortality (1/100000)", "values": [0,10,20,30,40,50,60,70,80,90]}},
   "color": {"field": "series", "type": "nominal", "scale": {"domain": ["Predicted value","Fitted value","Lower 95% CI","Upper 95% CI","Actual value"], "range": ["#ea7494","#8cc152","#f7cc74","#e9a04e","#1b9fdd"]}, "legend": {"title": null, "orient": "none", "legendX": 415, "legendY": 4}},
   "strokeDash": {"field": "series", "type": "nominal", "scale": {"domain": ["Predicted value","Fitted value","Lower 95% CI","Upper 95% CI","Actual value"], "range": [[1,0],[1,0],[5,4],[5,3],[1,0]]}, "legend": {"title": null, "orient": "none", "legendX": 415, "legendY": 4}},
   "strokeWidth": {"field": "series", "type": "nominal", "scale": {"type": "ordinal", "domain": ["Predicted value","Fitted value","Lower 95% CI","Upper 95% CI","Actual value"], "range": [1.6,1.6,1.6,2,2.6]}, "legend": {"title": null, "orient": "none", "legendX": 415, "legendY": 4}}
  }}
]
}
